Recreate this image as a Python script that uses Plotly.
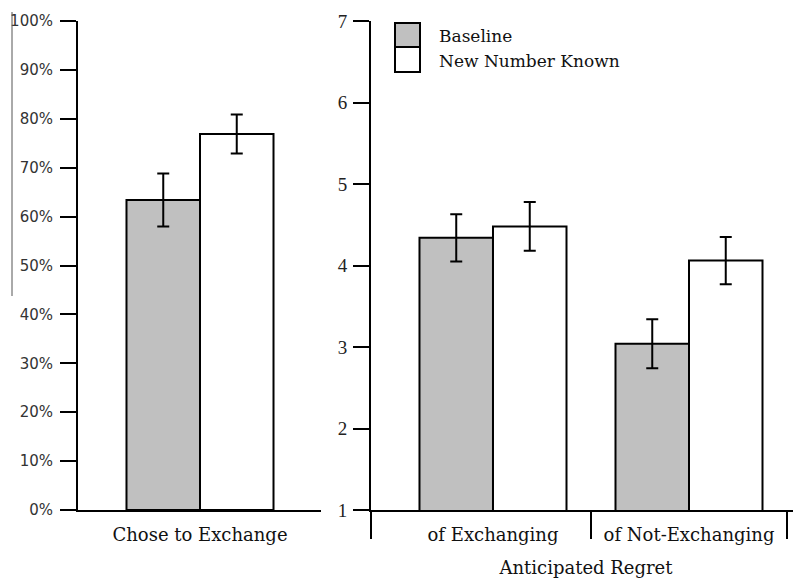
import plotly.graph_objects as go

# ---- data ----
exchange_categories = ["Chose to Exchange"]
exchange_baseline = [0.634]
exchange_baseline_err = [0.054]
exchange_new_number = [0.769]
exchange_new_number_err = [0.040]

regret_categories = ["of Exchanging", "of Not-Exchanging"]
regret_baseline = [4.34, 3.04]
regret_baseline_err = [0.29, 0.30]
regret_new_number = [4.48, 4.06]
regret_new_number_err = [0.30, 0.29]

pct_ticks = [i / 10 for i in range(11)]
regret_ticks = [1, 2, 3, 4, 5, 6, 7]

series_names = ["Baseline", "New Number Known"]
series_colors = ["#c0c0c0", "#ffffff"]

# the page body has an 8px default margin; size the figure to fit the window
W, H = 801, 580
OFF = 8
FW, FH = W - OFF, H - OFF

def px_x(p):
    return (p - OFF) / FW

def px_y(p):
    return (H - p) / FH

serif = "DejaVu Serif"
fig = go.Figure()

err_style = dict(type="data", color="black", thickness=2, width=6, visible=True)
bar_line = dict(color="black", width=2)

left_x = list(range(len(exchange_categories)))
right_x = list(range(len(regret_categories)))

fig.add_trace(go.Bar(x=left_x, y=exchange_baseline, name=series_names[0],
                     marker=dict(color=series_colors[0], line=bar_line),
                     error_y=dict(array=exchange_baseline_err, **err_style),
                     xaxis="x", yaxis="y", offsetgroup="a", showlegend=False))
fig.add_trace(go.Bar(x=left_x, y=exchange_new_number, name=series_names[1],
                     marker=dict(color=series_colors[1], line=bar_line),
                     error_y=dict(array=exchange_new_number_err, **err_style),
                     xaxis="x", yaxis="y", offsetgroup="b", showlegend=False))
fig.add_trace(go.Bar(x=right_x, y=regret_baseline, name=series_names[0],
                     marker=dict(color=series_colors[0], line=bar_line),
                     error_y=dict(array=regret_baseline_err, **err_style),
                     xaxis="x2", yaxis="y2", offsetgroup="a", showlegend=False))
fig.add_trace(go.Bar(x=right_x, y=regret_new_number, name=series_names[1],
                     marker=dict(color=series_colors[1], line=bar_line),
                     error_y=dict(array=regret_new_number_err, **err_style),
                     xaxis="x2", yaxis="y2", offsetgroup="b", showlegend=False))

ydom = [px_y(510), px_y(21)]
axis_common = dict(showline=True, linecolor="black", linewidth=2, showgrid=False,
                   zeroline=False, automargin=False)

fig.update_layout(
    width=FW, height=FH,
    margin=dict(l=0, r=0, t=0, b=0),
    paper_bgcolor="white", plot_bgcolor="white",
    barmode="group", bargap=0.25, bargroupgap=0,
    showlegend=False,
    xaxis=dict(domain=[px_x(78), px_x(321)], range=[-0.6224, 0.6173],
               tickmode="array", tickvals=left_x, ticktext=exchange_categories,
               ticks="", ticklabelstandoff=7,
               tickfont=dict(family=serif, size=18, color="#111"),
               anchor="y", **axis_common),
    yaxis=dict(domain=ydom, range=[0, 1], tickmode="array", tickvals=pct_ticks,
               tickformat=".0%", ticks="outside", ticklen=16, tickwidth=2,
               tickcolor="black", ticklabelstandoff=4,
               tickfont=dict(family="DejaVu Sans", size=15, color="#333"),
               anchor="x", **axis_common),
    xaxis2=dict(domain=[px_x(371), 1.0], range=[-0.6224, 1.5714],
                tickmode="array", tickvals=right_x, ticktext=regret_categories,
                ticks="", ticklabelstandoff=7,
                tickfont=dict(family=serif, size=18, color="#111"),
                minor=dict(tickmode="array", tickvals=[-0.621, 0.5, 1.5],
                           ticks="outside", ticklen=27, tickwidth=2, tickcolor="black"),
                title=dict(text="Anticipated Regret", standoff=18,
                           font=dict(family=serif, size=18, color="#111")),
                anchor="y2", **axis_common),
    yaxis2=dict(domain=ydom, range=[1, 7], tickmode="array", tickvals=regret_ticks,
                ticks="outside", ticklen=16, tickwidth=2, tickcolor="black",
                ticklabelstandoff=2,
                tickfont=dict(family="Liberation Serif", size=19, color="#222"),
                anchor="x2", **axis_common),
)

# thin stray rule at far left (as in the source image)
fig.add_shape(type="line", xref="paper", yref="paper",
              x0=px_x(12), x1=px_x(12), y0=px_y(12), y1=px_y(296),
              line=dict(color="#555", width=1))

# legend drawn as boxes + text
legend_boxes = [(23, 47), (47, 72)]
legend_text_y = [36, 61]
for (top, bot), color, name, ty in zip(legend_boxes, series_colors, series_names, legend_text_y):
    fig.add_shape(type="rect", xref="paper", yref="paper",
                  x0=px_x(395), x1=px_x(420), y0=px_y(bot), y1=px_y(top),
                  fillcolor=color, line=dict(color="black", width=2))
    fig.add_annotation(xref="paper", yref="paper", x=px_x(437), y=px_y(ty),
                       text=name, showarrow=False, xanchor="left", yanchor="middle",
                       font=dict(family=serif, size=17, color="#111"))

fig.write_html("out.html")
